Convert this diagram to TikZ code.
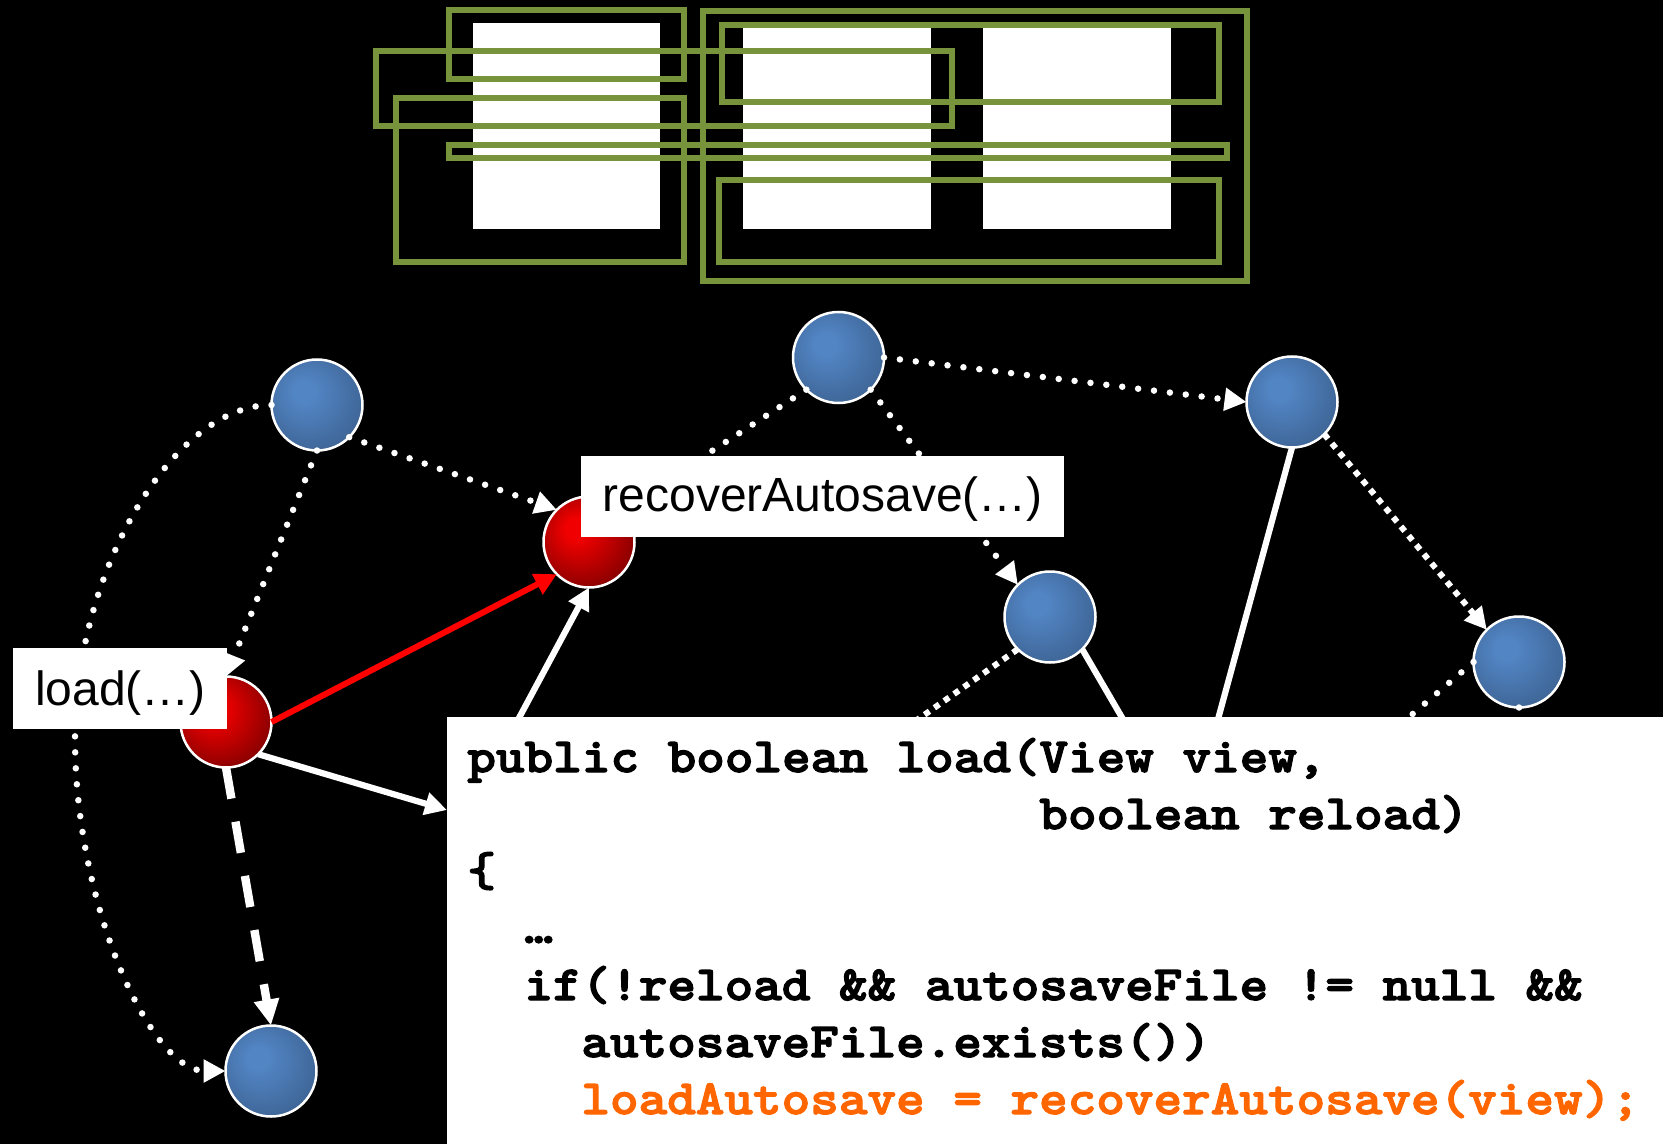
\documentclass[tikz,border=0pt]{standalone}
\usepackage{fontspec}
\newfontfamily\labelfont{Liberation Sans}
\newfontfamily\codefont{lmmonolt10-bold}[Extension=.otf, FakeBold=2.5, FakeStretch=1.112]
\usetikzlibrary{arrows.meta}

\definecolor{frameolive}{HTML}{77933C}
\definecolor{codeorange}{HTML}{FF6600}
\definecolor{bLight}{RGB}{82,133,196}
\definecolor{bDark}{RGB}{58,94,140}
\definecolor{rLight}{RGB}{240,0,0}
\definecolor{rDark}{RGB}{105,0,0}

% sphere-like fills, brightest towards the upper left
\pgfdeclareradialshading{bluesphere}{\pgfpoint{-8bp}{8bp}}{color(0bp)=(bLight); color(6bp)=(bLight); color(36bp)=(bDark); color(60bp)=(bDark)}
\pgfdeclareradialshading{redsphere}{\pgfpoint{-8bp}{8bp}}{color(0bp)=(rLight); color(6bp)=(rLight); color(38bp)=(rDark); color(60bp)=(rDark)}

\newcommand\codetype{\codefont\fontsize{24.5pt}{28pt}\selectfont}

\begin{document}
\begin{tikzpicture}[x=0.5pt,y=-0.5pt,
  ball/.style={circle, minimum size=45.5pt, inner sep=0pt, outer sep=0pt, draw=white, line width=1.25pt},
  blueball/.style={ball, shade, shading=bluesphere},
  redball/.style={ball, shade, shading=redsphere},
  page/.style={fill=white},
  frame/.style={draw=frameolive, line width=2.75pt},
  tip/.style={-{Triangle[length=11pt,width=11pt]}},
  bigtip/.style={-{Triangle[length=13pt,width=12pt]}},
  dotline/.style={draw=white, line width=3.25pt, line cap=round, dash pattern=on 0pt off 8pt},
  sqdotline/.style={draw=white, line width=3pt, dash pattern=on 3pt off 3pt},
  solidline/.style={draw=white, line width=3.1pt},
  dashline/.style={draw=white, line width=4.2pt, dash pattern=on 15.8pt off 11.7pt},
  callline/.style={draw=red, line width=3pt},
  labelbox/.style={fill=white, inner ysep=0pt, inner xsep=0pt, anchor=north west, font=\labelfont\fontsize{24pt}{28pt}\selectfont},
  codeline/.style={anchor=base west, inner sep=0pt, font=\codetype}
]
\useasboundingbox (0,0) rectangle (1663,1144);
\fill[black] (0,0) rectangle (1663,1144);

% ---- pages and their overlapping frames ----
\fill[page] (473,23) rectangle (660,229);
\fill[page] (743,28) rectangle (931,229);
\fill[page] (983,28) rectangle (1171,229);

\draw[frame] (449,10) rectangle (684,79);
\draw[frame] (703,11) rectangle (1247,281);
\draw[frame] (722,25) rectangle (1219,102);
\draw[frame] (376,51) rectangle (952,126);
\draw[frame] (396,98) rectangle (684,262);
\draw[frame] (449,145) rectangle (1227,158);
\draw[frame] (719,180) rectangle (1219,262);

% ---- call graph nodes ----
\node[blueball] (N1) at (317,405) {};
\node[blueball] (N2) at (838.5,357.5) {};
\node[blueball] (N3) at (1292,402) {};
\node[blueball] (N4) at (1050,617) {};
\node[blueball] (N5) at (1519,662) {};
\node[blueball] (N6) at (271,1071) {};
\node[redball] (R1) at (589,542) {};
\node[redball] (R2) at (226,722) {};

% free ends that run on beneath the code listing
\coordinate (bendL) at (75,738);
\coordinate (n3tail) at (1196,800);
\coordinate (n4tailR) at (1170,800);
\coordinate (n4tailL) at (803,800);
\coordinate (n5tailL) at (1312,800);
\coordinate (n5tailB) at (1519,800);
\coordinate (r1src) at (475,800);
\coordinate (codein) at (447,810);

% ---- connectors ----
\draw[dotline, tip] (N1.-45) -- (R1.135);
\draw[dotline, tip] (N1.south) -- (R2.north);
\draw[dotline, tip] (N1.west) .. controls (173,405) and (75,571.5) .. (bendL)
                              .. controls (75,904.5) and (150.5,1071) .. (N6.west);
\draw[dotline, tip] (N2.-135) -- (R1.45);
\draw[dotline, tip] (N2.-45) -- (N4.135);
\draw[dotline, tip] (N2.east) -- (N3.west);
\draw[sqdotline, tip] (N3.-45) -- (N5.135);
\draw[solidline] (N3.south) -- (n3tail);
\draw[solidline] (N4.-45) -- (n4tailR);
\draw[sqdotline] (N4.-135) -- (n4tailL);
\draw[dotline] (N5.west) -- (n5tailL);
\draw[dotline] (N5.south) -- (n5tailB);
\draw[solidline, tip] (r1src) -- (R1.south);
\draw[callline, tip] (R2.east) -- (R1.-135);
\draw[solidline, tip] (R2.-45) -- (codein);
\draw[dashline, bigtip] (R2.south) -- (N6.north);

% ---- method labels ----
\node[labelbox, minimum width=241.5pt, text height=27.5pt, text depth=13pt] (recoverlabel) at (581,456) {recoverAutosave(…)};
\node[labelbox, minimum width=107pt, text height=28.5pt, text depth=12pt] (loadlabel) at (13,648) {load(…)};

% ---- source listing ----
\fill[white] (447,717) rectangle (1663,1144);
\node[codeline] (c1) at (467,772) {public boolean load(View view,};
\node[codeline] (c2) at (1039,829) {boolean reload)};
\node[codeline] (c3) at (467,886) {\{};
\node[codeline] (c4) at (524,943) {\char"2026};
\node[codeline] (c5) at (524,1000) {if(!reload \&\& autosaveFile != null \&\&};
\node[codeline] (c6) at (581,1057) {autosaveFile.exists())};
\node[codeline, text=codeorange] (c7) at (581,1114) {loadAutosave = recoverAutosave(view);};
\end{tikzpicture}
\end{document}
